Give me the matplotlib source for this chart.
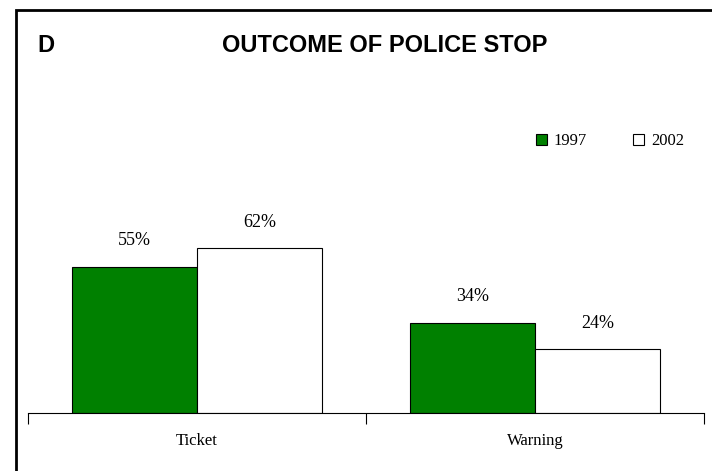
import matplotlib.pyplot as plt
from matplotlib.patches import Patch, Rectangle
import numpy as np

# Data
categories = ["Ticket", "Warning"]
years = ["1997", "2002"]
pct_1997 = [55, 34]
pct_2002 = [62, 24]

serif = ["Liberation Serif", "DejaVu Serif"]
narrow = ["Liberation Sans Narrow", "Liberation Sans", "DejaVu Sans"]

fig = plt.figure(figsize=(7.12, 4.71), dpi=100)
W, H = 712, 471

# outer frame (right/bottom edges run off the picture)
fig.patches.append(Rectangle((16 / W, -0.1), 1.2, 1 - 10 / H + 0.1,
                             transform=fig.transFigure, fill=False,
                             edgecolor="black", linewidth=2))

ax = fig.add_axes([28 / W, 1 - 413 / H, (704 - 28) / W, (413 - 90) / H])
x = np.arange(len(categories))
w = 0.37
b1 = ax.bar(x - w / 2, pct_1997, w, color="#008000", edgecolor="black", linewidth=0.8)
b2 = ax.bar(x + w / 2, pct_2002, w, color="white", edgecolor="black", linewidth=0.8)

for bars, vals in [(b1, pct_1997), (b2, pct_2002)]:
    for bar, v in zip(bars, vals):
        ax.text(bar.get_x() + bar.get_width() / 2, v + 6.5, f"{v}%",
                ha="center", va="bottom", fontsize=13, family=serif)

ax.set_xlim(-0.5, 1.5)
ax.set_ylim(0, (413 - 90) / 2.66)
for s in ["top", "right", "left"]:
    ax.spines[s].set_visible(False)
ax.spines["bottom"].set_linewidth(0.8)
ax.set_yticks([])
ax.set_xticks([-0.5, 0.5, 1.5])
ax.set_xticklabels([])
ax.tick_params(axis="x", length=8, width=0.8)
for xi, c in zip(x, categories):
    ax.text(xi, -(441 - 413) / 2.66, c, ha="center", va="center",
            fontsize=12, family=serif)

fig.text(37 / W, 1 - 45 / H, "D", fontsize=17, fontweight="bold",
         family=narrow, va="center", ha="left")
fig.text(385 / W, 1 - 45 / H, "OUTCOME OF POLICE STOP", fontsize=17,
         fontweight="bold", family=narrow, va="center", ha="center")

handles = [Patch(facecolor="#008000", edgecolor="black", linewidth=0.8),
           Patch(facecolor="white", edgecolor="black", linewidth=0.8)]
fig.legend(handles, years, loc="center left", bbox_to_anchor=(521 / W, 1 - 141 / H),
           ncol=2, frameon=False, handlelength=0.65, handleheight=0.65,
           handletextpad=0.4, columnspacing=2.8, prop={"family": serif, "size": 12})

fig.savefig("out.png", dpi=100)
